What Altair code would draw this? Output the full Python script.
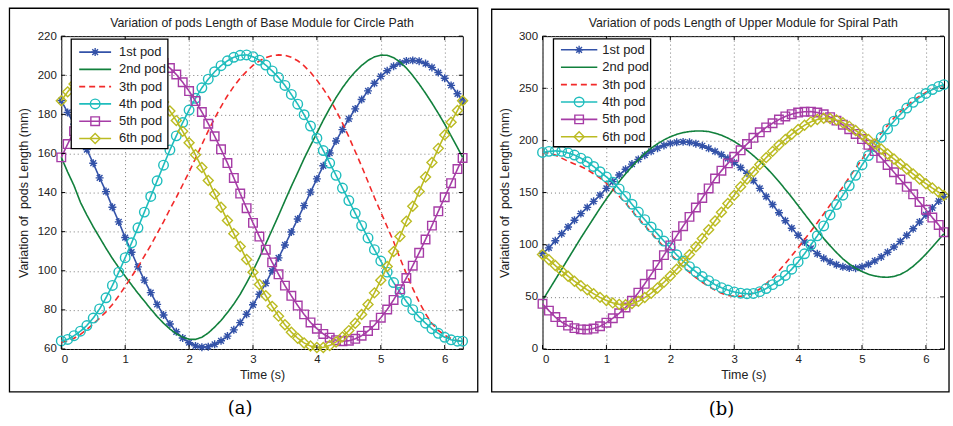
import altair as alt
import pandas as pd

# ---------------- data ----------------
T = [0.0, 0.1, 0.2, 0.3, 0.4, 0.5, 0.6, 0.7, 0.8, 0.9,
     1.0, 1.1, 1.2, 1.3, 1.4, 1.5, 1.6, 1.7, 1.8, 1.9,
     2.0, 2.1, 2.2, 2.3, 2.4, 2.5, 2.6, 2.7, 2.8, 2.9,
     3.0, 3.1, 3.2, 3.3, 3.4, 3.5, 3.6, 3.7, 3.8, 3.9,
     4.0, 4.1, 4.2, 4.3, 4.4, 4.5, 4.6, 4.7, 4.8, 4.9,
     5.0, 5.1, 5.2, 5.3, 5.4, 5.5, 5.6, 5.7, 5.8, 5.9,
     6.0, 6.1, 6.2, 6.28]

PODS = ["1st pod", "2nd pod", "3th pod", "4th pod", "5th pod", "6th pod"]

# Panel (a): Base Module, Circle Path
A1 = [187, 181, 175, 168.5, 162, 155, 147.5, 140.5, 132.5, 125,
      117, 109.5, 102, 95.2, 88.8, 82.8, 77.4, 72.8, 68.8, 65.6,
      63.2, 61.6, 60.9, 61.2, 62.4, 64.2, 66.6, 69.8, 73.5, 77.8,
      82.6, 88.0, 93.6, 100.0, 106.6, 113.2, 119.8, 126.5, 133.3, 140.2,
      147.0, 153.7, 160.2, 166.4, 172.2, 177.7, 182.8, 187.6, 192.0, 195.9,
      199.4, 202.3, 204.6, 206.3, 207.3, 207.6, 207.2, 206.0, 204.0, 201.4,
      198.5, 194.8, 190.5, 186.8]
A2 = [158, 150.5, 143.5, 135, 128.5, 122.5, 117, 111.5, 106.3, 101.6,
      97.2, 92.8, 88.5, 84.5, 80.4, 76.6, 73.2, 70.2, 67.8, 66,
      65, 64.9, 66, 68.2, 71.2, 74.6, 78.6, 83, 88, 93.8,
      100, 106.8, 113.8, 121, 128.3, 135.8, 143.2, 150.2, 157.4, 164,
      170.5, 177, 183, 188.6, 193.6, 198, 201.8, 205, 207.6, 209.4,
      210.3, 210.2, 209, 206.8, 203.7, 199.8, 195.5, 190.8, 185.8, 180.5,
      175, 169, 163, 158]
A3 = [63.5, 64, 65.5, 67.5, 70, 72.8, 75.8, 79, 82.8, 87.2,
      92, 97, 102, 107.5, 113, 119, 125, 131.5, 137.5, 144,
      150.5, 157.5, 164.5, 171.5, 178, 184, 189.5, 194.3, 198.5, 202,
      205, 207.3, 209, 210, 210.4, 210.2, 209.2, 207.4, 204.8, 201.5,
      197.5, 193, 188, 182, 175.5, 168.5, 161, 153.5, 145.5, 137.5,
      130, 122.5, 115, 106.5, 98.5, 91, 84, 78, 73, 69.5,
      67, 65.3, 64.3, 64]
A4 = [64.1, 64.9, 66.8, 69.1, 72, 75.8, 80.5, 86.2, 92.5, 99.3,
      106.7, 114.3, 122, 130, 138, 146, 154, 161.8, 169, 175.8,
      182.2, 188.2, 193.6, 198, 201.8, 204.9, 207.4, 209.2, 210.2, 210.4,
      209.5, 207.7, 205.2, 202.2, 198.8, 194.8, 190.2, 185.2, 179.8, 174,
      167.8, 161.5, 155.1, 148.8, 142.3, 135.9, 129.4, 123.1, 116.8, 110.8,
      105, 99.3, 94, 89, 84.3, 80.1, 76.4, 73.2, 70.4, 68,
      66, 64.7, 64, 64]
A5 = [158, 164.8, 171.4, 177.7, 183.5, 188.9, 193.8, 198, 201.7, 204.8,
      207.2, 208.8, 209.8, 210, 209.5, 208.2, 206.3, 203.7, 200.4, 196.4,
      191.9, 186.8, 181.2, 175.2, 168.8, 162.1, 155.1, 147.5, 139.5, 132,
      124.5, 117.5, 110.8, 104.3, 98.2, 92.4, 87.2, 82.2, 77.7, 73.6,
      70.4, 67.7, 65.8, 64.5, 64, 64.2, 65.2, 66.8, 69.2, 72.2,
      76, 80.2, 85.1, 90.5, 96.3, 102.6, 109.2, 116, 123.1, 130.4,
      137.6, 144.8, 152, 157.7]
A6 = [187, 191.5, 195.5, 199, 202, 204.3, 206, 207, 207.3, 207,
      206, 204.3, 201.8, 198.7, 195, 190.8, 186.3, 181.7, 176.8, 171.3,
      165.5, 159.3, 152.8, 146.2, 139.3, 132.5, 125.7, 119, 112.4, 105.8,
      99.3, 93, 87.2, 81.8, 76.8, 72.4, 68.6, 65.5, 63.1, 61.5,
      60.8, 60.8, 61.8, 63.6, 66.2, 69.4, 73.2, 77.6, 82.8, 88.7,
      95.2, 102.2, 109.8, 117.5, 125.3, 133, 140.6, 148, 155.4, 162.6,
      169.5, 176, 182, 187]

# Panel (b): Upper Module, Spiral Path
B1 = [91.5, 97, 103.8, 110.5, 117, 123.5, 129.8, 135.8, 141.6, 147.5,
      154, 160.5, 166.8, 172.3, 177.3, 181.8, 185.8, 189.5, 192.6, 195.2,
      197.1, 198.2, 198.6, 198.2, 196.9, 194.9, 192.4, 189.5, 186.3, 182.7,
      178.7, 174, 168.5, 161.5, 154, 146.2, 138.5, 130.7, 123, 115.8,
      109, 102.5, 96.5, 91.3, 87, 83.5, 80.8, 78.8, 77.7, 77.5,
      78.8, 81.2, 84.5, 88.3, 92.8, 97.8, 103.2, 109, 115.3, 121.8,
      128.5, 135.3, 141.8, 146]
B2 = [46.5, 56.5, 66.5, 76.5, 86.5, 96.5, 106.5, 116, 125.5, 135,
      144, 152.5, 160.5, 168, 175, 181.5, 187.5, 192.5, 196.8, 200.5,
      203.5, 205.8, 207.5, 208.5, 209, 209, 208.5, 207, 205, 202.3,
      199, 195, 190.5, 185.5, 180, 174, 167.5, 160.5, 153, 145.5,
      137.5, 129.5, 121.5, 113.5, 106, 99, 92.5, 86.5, 81.5, 77.5,
      74.2, 71.7, 70, 69, 68.8, 69.6, 71.5, 74.8, 79.3, 84.8,
      91, 97.8, 104.8, 110.5]
B3 = [188.5, 188, 186, 183, 180, 177.5, 175, 172, 168, 164,
      159, 153, 146.5, 140, 132.5, 125.5, 118.5, 111.5, 104.5, 97.5,
      91, 85, 79, 73.5, 68.5, 64, 60, 56.5, 53.5, 51.5,
      50.5, 50.5, 51.5, 53.8, 57.5, 62.5, 68.5, 75, 82, 89.5,
      97, 105, 113, 121, 129.5, 138, 146.5, 155.5, 164.5, 173.5,
      182, 190.5, 199, 207, 214.5, 221.5, 227.7, 233.3, 238.3, 242.5,
      246, 249, 251.5, 252.5]
B4 = [188.5, 189.5, 190, 189.5, 188, 186, 183, 179.5, 175, 170,
      165, 160, 153.5, 146.3, 138.8, 131.3, 124, 117, 110.3, 103.5,
      97, 90.3, 84.3, 79, 74, 69.5, 65.5, 61.7, 58.8, 56.5,
      54.7, 53.5, 53, 53.3, 55, 58, 61.7, 65.5, 70.5, 76.5,
      83.5, 91.3, 100, 108.5, 118, 128.5, 138.5, 147.5, 156.5, 166.5,
      176.5, 185.5, 194, 203, 211, 218.5, 225, 231, 236.5, 241,
      245, 248.8, 251.8, 253.5]
B5 = [43.3, 36.8, 30.6, 25.8, 22.4, 20, 18.8, 18.6, 19.6, 21.8,
      25.2, 29.5, 34.2, 39.8, 46.2, 54, 62.5, 71.5, 80.5, 90,
      99.3, 108.5, 117.8, 126.7, 135.7, 144.8, 154, 163.5, 171, 178,
      184.3, 190.5, 196.5, 202.5, 207.8, 212.5, 216.5, 220, 223, 225.2,
      226.7, 227.5, 227.6, 226.8, 225, 222.3, 219, 215, 210.8, 206.2,
      201.3, 195.8, 189.8, 183.3, 176.5, 169.5, 162.5, 155.5, 148.3, 141,
      133.5, 126, 119, 112]
B6 = [90.5, 85.5, 80, 74.8, 69.8, 65, 60.7, 56.7, 53, 49.5,
      46.5, 44.2, 42.8, 42.5, 43.5, 45.8, 49.3, 53.5, 58.5, 64,
      70, 76.5, 83.3, 90.5, 98, 106, 114.3, 122.8, 131.2, 139.5,
      147.5, 155.5, 163, 170, 177, 183.5, 189.5, 195.5, 201, 206,
      210.5, 214.5, 217.8, 220, 221.2, 221, 219.5, 217, 213.5, 209.5,
      205.5, 201, 196.5, 191.8, 187, 182.2, 177.4, 172.6, 167.8, 163,
      158.5, 154.3, 150.3, 147.3]

X_TICKS = [0, 1, 2, 3, 4, 5, 6]
A_Y_TICKS = [60, 80, 100, 120, 140, 160, 180, 200, 220]
B_Y_TICKS = [0, 50, 100, 150, 200, 250, 300]

TITLE_A = "Variation of pods Length of Base Module for Circle Path"
TITLE_B = "Variation of pods Length of Upper Module for Spiral Path"
Y_TITLE = "Variation of\u00a0 pods Length (mm)"
X_TITLE = "Time (s)"

# ---------------- styles ----------------
COLORS = ["#3352A8", "#11803C", "#F22A2A", "#1FBDBD", "#A63CA6", "#BBBB22"]
DASHES = [[1, 0], [1, 0], [6, 4], [1, 0], [1, 0], [1, 0]]
ASTER = "M-1,0L1,0M0,-1L0,1M-0.72,-0.72L0.72,0.72M-0.72,0.72L0.72,-0.72"
# marker per pod: (shape, size); pods without a marker are absent
MARKERS = {"1st pod": (ASTER, 64), "4th pod": ("circle", 92),
           "5th pod": ("square", 74), "6th pod": ("diamond", 100)}

SANS = "Liberation Sans"
TXT = "#222222"
W, H = 403, 314

color_enc = alt.Color("pod:N", scale=alt.Scale(domain=PODS, range=COLORS), legend=None)
dash_enc = alt.StrokeDash("pod:N", scale=alt.Scale(domain=PODS, range=DASHES), legend=None)


def long_df(series):
    rows = []
    for pod, vals in zip(PODS, series):
        for t, v in zip(T, vals):
            rows.append({"t": t, "v": v, "pod": pod})
    return pd.DataFrame(rows)


def panel(series, title, ydom, yticks, leg_box, leg_rows, leg_line, leg_text_x, frame, label, lab_xy):
    df = long_df(series)
    x_axis = alt.Axis(values=X_TICKS, format="d", grid=True, gridDash=[1, 3], gridColor="#6a6a6a",
                      gridWidth=0.9, tickSize=0, domain=False, labelFont=SANS, labelFontSize=11.5,
                      labelColor=TXT, labelPadding=5, title=X_TITLE, titleFont=SANS,
                      titleFontSize=12.5, titleFontWeight="normal", titleColor=TXT, titlePadding=3)
    y_axis = alt.Axis(values=yticks, format="d", grid=True, gridDash=[1, 3], gridColor="#6a6a6a",
                      gridWidth=0.9, tickSize=0, domain=False, labelFont=SANS, labelFontSize=11.5,
                      labelColor=TXT, labelPadding=5, title=Y_TITLE, titleFont=SANS,
                      titleFontSize=12.5, titleFontWeight="normal", titleColor=TXT, titlePadding=7)
    X = alt.X("t:Q", scale=alt.Scale(domain=[0, 6.2832], nice=False, zero=False), axis=x_axis)
    Y = alt.Y("v:Q", scale=alt.Scale(domain=ydom, nice=False, zero=False), axis=y_axis)

    layers = []
    for pod in PODS:
        sub = df[df.pod == pod]
        layers.append(alt.Chart(sub).mark_line(strokeWidth=1.6).encode(
            x=X, y=Y, color=color_enc, strokeDash=dash_enc, order="t:Q"))
        if pod in MARKERS:
            shp, sz = MARKERS[pod]
            layers.append(alt.Chart(sub).mark_point(shape=shp, size=sz, filled=False,
                                                    strokeWidth=1.4, opacity=1).encode(
                x=X, y=Y, color=color_enc))

    xt = pd.DataFrame({"t": X_TICKS})
    yt = pd.DataFrame({"v": yticks})
    layers += [
        alt.Chart(xt).mark_rule(color="black", strokeWidth=1).encode(x=X, y=alt.value(H), y2=alt.value(H - 4)),
        alt.Chart(xt).mark_rule(color="black", strokeWidth=1).encode(x=X, y=alt.value(0), y2=alt.value(4)),
        alt.Chart(yt).mark_rule(color="black", strokeWidth=1).encode(y=Y, x=alt.value(0), x2=alt.value(4)),
        alt.Chart(yt).mark_rule(color="black", strokeWidth=1).encode(y=Y, x=alt.value(W - 4), x2=alt.value(W)),
    ]

    layers.append(alt.Chart(pd.DataFrame({"s": [title]})).mark_text(
        font=SANS, fontSize=12.4, color=TXT, align="center", baseline="middle").encode(
        text="s:N", x=alt.value(W / 2), y=alt.value(-13)))
    layers.append(alt.Chart(pd.DataFrame({"s": [label]})).mark_rect(
        fill="transparent", stroke="black", strokeWidth=1.3).encode(
        x=alt.value(frame[0]), x2=alt.value(frame[1]), y=alt.value(frame[2]), y2=alt.value(frame[3])))
    layers.append(alt.Chart(pd.DataFrame({"s": [label]})).mark_text(
        font="DejaVu Serif", fontSize=18, color="black", align="center", baseline="middle").encode(
        text="s:N", x=alt.value(lab_xy[0]), y=alt.value(lab_xy[1])))

    data_layer = alt.layer(*layers)

    leg = pd.DataFrame({"pod": PODS, "row": [0, 1, 2, 3, 4, 5]})
    LY = alt.Y("row:Q", scale=alt.Scale(domain=[0, 5], range=list(leg_rows)), axis=None)
    mid = (leg_line[0] + leg_line[1]) / 2
    leg_layers = [
        alt.Chart(pd.DataFrame({"s": ["box"]})).mark_rect(fill="white", stroke="black", strokeWidth=1.3).encode(
            x=alt.value(leg_box[0]), x2=alt.value(leg_box[1]), y=alt.value(leg_box[2]), y2=alt.value(leg_box[3])),
        alt.Chart(leg).mark_rule(strokeWidth=1.6).encode(
            y=LY, x=alt.value(leg_line[0]), x2=alt.value(leg_line[1]), color=color_enc, strokeDash=dash_enc),
    ]
    for pod, (shp, sz) in MARKERS.items():
        leg_layers.append(alt.Chart(leg[leg.pod == pod]).mark_point(
            shape=shp, size=sz, filled=False, strokeWidth=1.4, opacity=1).encode(
            y=LY, x=alt.value(mid), color=color_enc))
    leg_layers.append(alt.Chart(leg).mark_text(
        font=SANS, fontSize=13, color=TXT, align="left", baseline="middle").encode(
        y=LY, x=alt.value(leg_text_x), text="pod:N"))
    legend_layer = alt.layer(*leg_layers)

    return alt.layer(data_layer, legend_layer).resolve_scale(y="independent").properties(width=W, height=H)


pa = panel([A1, A2, A3, A4, A5, A6], TITLE_A, [60, 220], A_Y_TICKS,
           leg_box=(10, 107, 3, 113), leg_rows=(16, 102.7), leg_line=(18, 50), leg_text_x=58,
           frame=(-52, 418, -28, 357), label="(a)", lab_xy=(179.5, 374.5))
pb = panel([B1, B2, B3, B4, B5, B6], TITLE_B, [0, 300], B_Y_TICKS,
           leg_box=(11, 108.5, 2.7, 111), leg_rows=(13.7, 101), leg_line=(18.5, 55), leg_text_x=60,
           frame=(-51, 408, -27, 357), label="(b)", lab_xy=(179.7, 374.8))

chart = alt.hconcat(pa, pb, spacing=80, bounds="flush").resolve_scale(
    x="independent", y="independent"
).properties(
    padding={"left": 7.5, "top": 5.5, "right": 0, "bottom": 0}
).configure_view(stroke="black", strokeWidth=1)

chart.save("out.html", embed_options={"renderer": "svg", "actions": False})
